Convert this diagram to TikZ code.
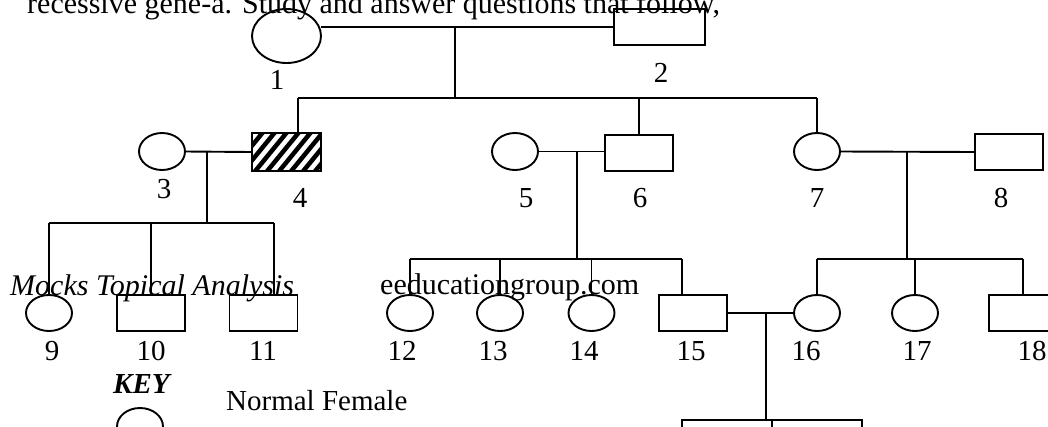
\documentclass[tikz,border=0pt]{standalone}
\usepackage{fontspec}
\setmainfont{Liberation Serif}
\usetikzlibrary{shapes.geometric}

\tikzset{
  female/.style={draw, ellipse, line width=1.9pt, inner sep=0pt, outer sep=0pt,
    minimum width=46pt, minimum height=37pt},
  male/.style={draw, rectangle, line width=1.9pt, inner sep=0pt, outer sep=0pt,
    minimum width=68pt, minimum height=36pt},
  tag/.style={anchor=base, inner sep=0pt},
  link/.style={line width=1.9pt},
  bigtext/.style={anchor=base west, inner sep=0pt, font=\fontsize{30pt}{35pt}\selectfont}
}

\begin{document}
\begin{tikzpicture}[x=1pt, y=-1pt, font=\fontsize{29pt}{34pt}\selectfont]

\useasboundingbox (0,0) rectangle (1048,426);
\clip (0,0) rectangle (1048,426);

% Heading
\node[bigtext] (head) at (27,13)
  {recessive gene-a. Study and answer questions that follow,};

% Grandparents
\node[female, minimum width=69pt, minimum height=54pt] (p1) at (286.5,36) {};
\node[male, minimum width=91pt] (p2) at (659.5,27) {};
\node[tag] (l1) at (277,89) {1};
\node[tag] (l2) at (661,82) {2};

% Second generation
\node[female] (p3) at (162,151.5) {};
\node[male, minimum width=69pt, minimum height=38pt] (p4) at (286.5,152) {};
\node[female] (p5) at (515,151.5) {};
\node[male, minimum width=68pt] (p6) at (639,153) {};
\node[female] (p7) at (817,151.5) {};
\node[male] (p8) at (1009,152) {};

% Hatching of affected male
\begin{scope}
\clip (p4.south west) rectangle (p4.north east);
\foreach \s in {-48,-36,...,72}
{
\draw[line width=4.5pt] (252+\s,175) -- ++(36,-44);
}
\end{scope}
\node[male, minimum width=69pt, minimum height=38pt] at (p4) {};

\node[tag] (l3) at (164,198) {3};
\node[tag] (l4) at (300,207) {4};
\node[tag] (l5) at (526,207) {5};
\node[tag] (l6) at (640,207) {6};
\node[tag] (l7) at (817,207) {7};
\node[tag] (l8) at (1001,207) {8};

% Third generation
\foreach \n/\x in {9/49,12/410,13/500,14/591.5,16/817,17/915}
{
\node[female, minimum height=36pt] (p\n) at (\x,313) {};
}
\foreach \n/\x in {10/151,11/263.5,15/693,18/1023}
{
\node[male] (p\n) at (\x,313) {};
}
\foreach \n/\x in {9/52,10/151,11/263,12/402,13/493,14/584,15/691,16/806,17/917,18/1032}
{
\node[tag] (l\n) at (\x,360) {\n};
}

% Fourth generation
\node[male, minimum width=90pt] (p19) at (727,438) {};
\node[male, minimum width=90pt] (p20) at (817,438) {};

% Watermarks
\node[bigtext] (wm1) at (10,295) {\itshape Mocks Topical Analysis};
\node[bigtext] (wm2) at (380,294) {eeducationgroup.com};

% Key
\node[anchor=base west, inner sep=0pt] (key) at (113,393) {\bfseries\itshape KEY};
\node[female] (k1) at (140,426.5) {};
\node[anchor=base west, inner sep=0pt] (k1t) at (226,410) {Normal Female};

% Marriage and sibling lines
\coordinate (m12) at (455,27);
\coordinate (s1) at (455,98);
\coordinate (b1w) at (298,98);
\coordinate (b1e) at (817,98);
\draw[link] (p2.west) -- (p2.west -| p1.east);
\draw[link] (m12) -- (s1);
\draw[link] (b1w) -- (b1e);
\draw[link] (b1w) -- (b1w |- p4.north);
\draw[link] (p6.north) -- (p6.north |- s1);
\draw[link] (b1e) -- (p7.north);

\coordinate (m34) at (207,152);
\coordinate (s34) at (207,223);
\coordinate (b2e) at (274,223);
\draw[link] (p3.east) -- (p4.west);
\draw[link] (m34) -- (s34);
\draw[link] (p9.north |- s34) -- (b2e);
\draw[link] (p9.north) -- (p9.north |- s34);
\draw[link] (p10.north) -- (p10.north |- s34);
\draw[link] (b2e) -- (b2e |- p11.north);

\coordinate (m56) at (577,152);
\coordinate (s56) at (577,259);
\coordinate (b3e) at (682,259);
\draw[link] (p5.east) -- (p5.east -| p6.west);
\draw[link] (m56) -- (s56);
\draw[link] (p12.north |- s56) -- (b3e);
\foreach \n in {12,13,14}
{
\draw[link] (p\n.north) -- (p\n.north |- s56);
}
\draw[link] (b3e) -- (b3e |- p15.north);

\coordinate (m78) at (907,152);
\coordinate (s78) at (907,259);
\draw[link] (p7.east) -- (p8.west);
\draw[link] (m78) -- (s78);
\draw[link] (p16.north |- s78) -- (p18.north |- s78);
\foreach \n in {16,17,18}
{
\draw[link] (p\n.north) -- (p\n.north |- s78);
}

\coordinate (m1516) at (766,313);
\draw[link] (p15.east) -- (p16.west);
\draw[link] (m1516) -- (m1516 |- p19.north);

\end{tikzpicture}
\end{document}
